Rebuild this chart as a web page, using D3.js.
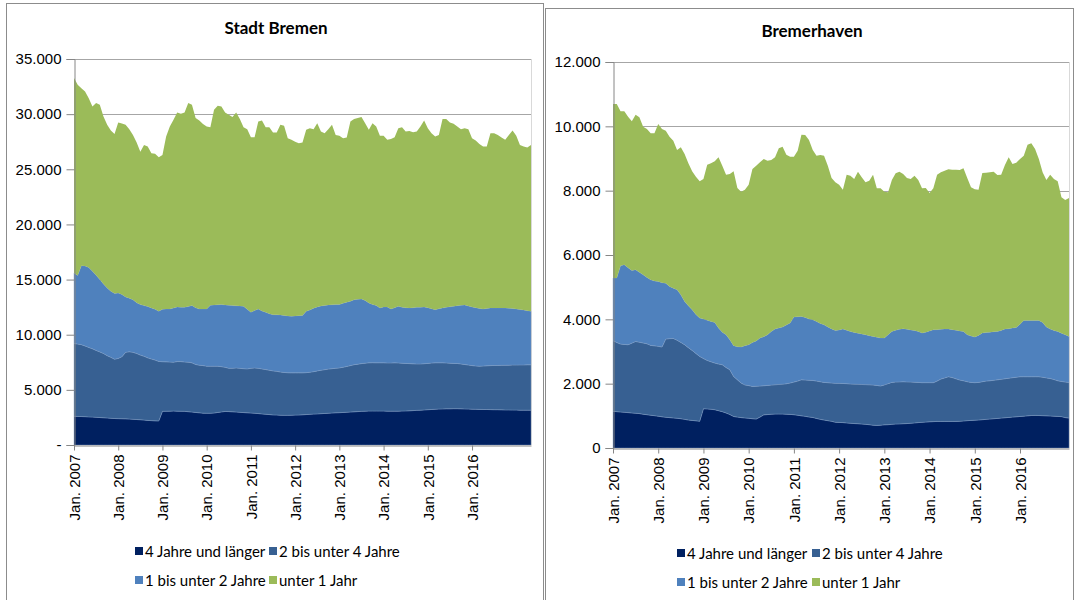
<!DOCTYPE html>
<html>
<head>
<meta charset="utf-8">
<script src="https://cdn.jsdelivr.net/npm/d3@7"></script>
<style>
  body { margin: 0; background: #fff; }
  svg { display: block; font-family: Lato, "Open Sans", sans-serif; }
</style>
</head>
<body>
<svg id="chart" width="1076" height="600"></svg>
<script>
// series names (stack order, bottom -> top)
const keys = ['4 Jahre und länger', '2 bis unter 4 Jahre', '1 bis unter 2 Jahre', 'unter 1 Jahr'];
const colors = ['#002060', '#376092', '#4f81bd', '#9bbb59'];
const tickLabels = ['Jan. 2007', 'Jan. 2008', 'Jan. 2009', 'Jan. 2010', 'Jan. 2011',
  'Jan. 2012', 'Jan. 2013', 'Jan. 2014', 'Jan. 2015', 'Jan. 2016'];

// Stadt Bremen, monthly from Jan. 2007
const bremen4plus = [
  2600,2590,2580,2570,2550,2530,2510,2490,2470,2450,2420,2400,
  2390,2380,2370,2350,2330,2310,2290,2260,2230,2210,2190,2180,
  3050,3060,3070,3080,3070,3060,3050,3020,2990,2950,2920,2890,
  2880,2880,2900,2950,3000,3040,3030,3010,2990,2960,2940,2920,
  2900,2880,2850,2820,2790,2760,2730,2720,2700,2690,2690,2700,
  2710,2720,2740,2760,2780,2800,2820,2840,2860,2880,2900,2920,
  2930,2950,2970,2990,3010,3030,3050,3070,3080,3080,3080,3080,
  3080,3070,3070,3070,3070,3080,3090,3100,3120,3140,3160,3180,
  3200,3220,3240,3260,3270,3280,3280,3290,3290,3280,3270,3260,
  3250,3240,3230,3220,3220,3210,3200,3200,3190,3180,3180,3170,
  3170,3160,3160,3160,3160];
const bremen2to4 = [
  6600,6560,6520,6410,6300,6190,6070,5950,5830,5650,5530,5380,
  5460,5620,6030,6100,6070,5990,5860,5790,5670,5590,5510,5400,
  4500,4480,4450,4430,4490,4500,4480,4490,4460,4350,4320,4310,
  4270,4270,4250,4200,4100,4010,3920,3950,4000,3990,3980,3980,
  4050,4110,4100,4080,4050,4020,3990,3960,3920,3890,3860,3840,
  3830,3820,3800,3800,3820,3850,3900,3940,3970,4000,4020,4040,
  4060,4100,4150,4210,4270,4300,4330,4350,4370,4380,4370,4370,
  4370,4370,4370,4380,4370,4340,4310,4280,4240,4210,4190,4190,
  4200,4210,4210,4190,4180,4160,4140,4110,4100,4070,4030,3990,
  3950,3930,3920,3940,3960,3990,4010,4010,4030,4050,4060,4080,
  4080,4100,4100,4110,4110];
const bremen1to2 = [
  6400,6210,7160,7250,7250,7030,6820,6560,6300,6140,6000,5950,
  5940,5650,5030,4850,4780,4600,4580,4590,4650,4630,4600,4540,
  4750,4790,4810,4910,4960,4940,4960,5050,5190,5150,5090,5130,
  5180,5520,5550,5560,5630,5650,5720,5680,5630,5650,5660,5400,
  5080,5210,5380,5250,5190,5120,5100,5120,5170,5170,5150,5130,
  5160,5190,5200,5560,5650,5750,5800,5820,5820,5820,5800,5770,
  5740,5800,5830,5830,5900,5880,5860,5680,5430,5290,5190,4980,
  5070,5080,4890,5000,5140,5080,5050,5050,5090,5130,5150,5150,
  5050,4920,4820,4900,4980,5040,5110,5180,5240,5320,5400,5350,
  5320,5280,5230,5170,5200,5230,5220,5220,5210,5190,5160,5130,
  5080,5020,4970,4900,4850];
const bremenUnder1 = [
  17670,17310,16090,15830,15350,14950,15600,15850,15190,14790,14570,14480,
  15450,15500,15600,15340,14940,14520,13870,14570,14510,14020,14100,13970,
  14000,15640,16550,17070,17630,17530,17660,18440,18210,17190,17090,16770,
  16550,16150,17690,18050,17970,17450,17270,17090,17530,16950,16240,16340,
  15880,15710,17000,17270,16790,16920,16510,16530,17240,17190,16120,16000,
  15800,15630,15680,16460,16480,16240,16660,15820,15620,15940,16310,15390,
  15300,14970,14930,16300,16370,16430,16490,16080,15700,16430,16240,15600,
  15510,15150,15420,15460,16150,16320,15970,16050,15910,15940,16380,16900,
  16280,15920,15700,15770,17120,17070,16710,16540,16250,15970,16030,16040,
  15300,15160,14920,14730,14680,15840,15840,15690,15450,15250,15720,16140,
  15700,14930,14830,14800,15090];

// Bremerhaven, monthly from Jan. 2007
const bhv4plus = [
  1140,1130,1120,1110,1100,1090,1080,1070,1050,1035,1020,1005,
  990,970,955,945,935,925,910,890,870,858,845,830,
  1220,1215,1205,1190,1160,1130,1090,1040,980,960,945,935,
  925,910,900,960,1030,1040,1050,1055,1056,1055,1050,1045,
  1035,1020,1000,985,965,950,920,890,870,850,830,800,
  795,790,780,770,760,755,745,735,725,710,703,710,
  720,725,735,745,750,755,760,770,780,790,797,805,
  815,820,827,827,827,827,827,827,830,840,850,858,
  865,870,880,890,900,910,920,930,940,950,960,970,
  980,990,1000,1010,1014,1010,1005,1000,995,990,983,975,
  945,930];
const bhv2to4 = [
  2194,2150,2110,2110,2110,2170,2230,2220,2215,2205,2170,2170,
  2170,2170,2431,2455,2470,2425,2373,2320,2250,2176,2095,2016,
  1560,1507,1475,1451,1450,1458,1410,1393,1245,1160,1073,1025,
  1015,1005,1020,965,905,905,905,911,919,930,947,975,
  1014,1060,1121,1128,1140,1151,1160,1170,1170,1180,1190,1210,
  1215,1215,1220,1220,1225,1224,1230,1235,1240,1248,1242,1217,
  1240,1275,1305,1305,1305,1305,1295,1280,1265,1250,1233,1225,
  1215,1210,1253,1315,1353,1388,1363,1323,1283,1250,1210,1182,
  1165,1170,1180,1190,1190,1195,1200,1205,1212,1220,1225,1230,
  1235,1225,1215,1205,1201,1205,1195,1180,1165,1140,1107,1095,
  1105,1110];
const bhv1to2 = [
  1948,2002,2434,2480,2390,2258,2230,2170,2119,2060,2039,2015,
  2013,2000,1734,1621,1565,1567,1480,1346,1300,1263,1210,1193,
  1228,1248,1256,1263,1118,1012,1021,932,954,1030,1120,1220,
  1270,1368,1410,1492,1525,1576,1665,1731,1755,1774,1823,1863,
  2021,2000,1970,1947,1903,1889,1850,1810,1791,1730,1680,1645,
  1660,1692,1660,1630,1608,1591,1570,1551,1525,1511,1495,1493,
  1457,1520,1584,1610,1635,1647,1635,1620,1610,1580,1543,1570,
  1610,1646,1600,1548,1517,1482,1490,1510,1527,1534,1461,1440,
  1418,1460,1513,1510,1510,1510,1504,1515,1545,1540,1545,1548,
  1635,1751,1751,1751,1751,1751,1700,1579,1540,1520,1534,1500,
  1470,1429];
const bhvUnder1 = [
  5412,5412,4802,4766,4700,4637,4823,4820,4606,4617,4553,4592,
  4900,4777,4745,4658,4585,4347,4584,4584,4430,4304,4286,4252,
  4355,4839,4914,5008,5309,5178,4977,5153,5422,4933,4831,4852,
  4977,5391,5448,5463,5525,5412,5334,5340,5586,5609,5299,5174,
  4987,5164,5650,5671,5567,5274,5158,5239,5257,5018,4694,4604,
  4517,4335,4838,4847,4770,5021,4870,4738,4821,5029,4633,4653,
  4552,4429,4708,4879,4901,4811,4704,4693,4812,4712,4500,4483,
  4288,4397,4818,4880,4925,4967,4973,4990,5003,5071,4873,4624,
  4594,4532,4977,4970,4970,4976,4863,4848,5101,5327,5099,5123,
  5135,5122,5464,5506,5330,5019,4670,4573,4798,4713,4667,4223,
  4190,4304];

const de = d3.formatLocale({ decimal: ',', thousands: '.', grouping: [3], currency: ['', ' €'] });
const fmt = de.format(',d');

const svg = d3.select('#chart');

const panels = [
  { title: 'Stadt Bremen', series: [bremen4plus, bremen2to4, bremen1to2, bremenUnder1],
    frame: [6, 3, 537, 620], titleX: 276, titleY: 34,
    left: 74, right: 531, top: 59, bottom: 445, max: 35000, step: 5000, zero: '-',
    legendX: [135, 269], legendY: [552, 581] },
  { title: 'Bremerhaven', series: [bhv4plus, bhv2to4, bhv1to2, bhvUnder1],
    frame: [545, 8, 528, 620], titleX: 812, titleY: 37,
    left: 613, right: 1069, top: 62, bottom: 448, max: 12000, step: 2000, zero: '0',
    legendX: [677, 812], legendY: [554, 583] }
];

panels.forEach(drawPanel);

function drawPanel(p) {
  const n = p.series[0].length;
  const rows = d3.range(n).map(i => {
    const r = { i: i };
    keys.forEach((k, j) => { r[k] = p.series[j][i]; });
    return r;
  });
  const stacked = d3.stack().keys(keys)(rows);

  const x = d3.scaleLinear().domain([0, n - 1]).range([p.left, p.right]);
  const y = d3.scaleLinear().domain([0, p.max]).range([p.bottom, p.top]);
  const yTicks = d3.range(0, p.max + 1, p.step);

  const g = svg.append('g');

  // panel frame
  g.append('rect')
    .attr('x', p.frame[0] + 0.5).attr('y', p.frame[1] + 0.5)
    .attr('width', p.frame[2]).attr('height', p.frame[3])
    .attr('fill', 'none').attr('stroke', '#8c8c8c');

  g.append('text')
    .attr('x', p.titleX).attr('y', p.titleY)
    .attr('text-anchor', 'middle')
    .style('font-size', '17px').style('font-weight', 'bold')
    .text(p.title);

  // gridlines
  g.selectAll('.grid')
    .data(yTicks.filter(d => d > 0))
    .enter()
    .append('line')
    .attr('class', 'grid')
    .attr('x1', p.left).attr('x2', p.right)
    .attr('y1', d => Math.round(y(d)) + 0.5).attr('y2', d => Math.round(y(d)) + 0.5)
    .attr('stroke', '#a6a6a6');

  g.append('line')
    .attr('x1', p.right + 0.5).attr('x2', p.right + 0.5)
    .attr('y1', p.top).attr('y2', p.bottom)
    .attr('stroke', '#d9d9d9');

  // stacked areas
  const area = d3.area()
    .x(d => x(d.data.i))
    .y0(d => y(d[0]))
    .y1(d => y(d[1]));

  g.selectAll('.band')
    .data(stacked)
    .enter()
    .append('path')
    .attr('class', 'band')
    .attr('fill', (d, j) => colors[j])
    .attr('stroke', (d, j) => j < 3 ? '#7f9cc4' : 'none')
    .attr('stroke-width', 0.4)
    .attr('d', area);

  // y axis
  const yAxis = g.append('g')
    .attr('transform', `translate(${p.left + 0.5},0)`)
    .call(d3.axisLeft(y).tickValues(yTicks).tickSize(8).tickPadding(5)
      .tickFormat(d => d === 0 ? p.zero : fmt(d)));
  yAxis.select('.domain').attr('stroke', '#868686');
  yAxis.selectAll('.tick line').attr('stroke', '#868686');
  yAxis.selectAll('text').style('font-size', '15px').attr('fill', '#000');

  // x axis
  const xAxis = g.append('g')
    .attr('transform', `translate(0,${p.bottom + 0.5})`)
    .call(d3.axisBottom(x).tickValues(tickLabels.map((t, k) => k * 12)).tickSize(5).tickSizeOuter(0)
      .tickFormat((d, k) => tickLabels[k]));
  xAxis.select('.domain').attr('stroke', '#868686');
  xAxis.selectAll('.tick line').attr('stroke', '#868686');
  xAxis.selectAll('text')
    .style('font-size', '15px').attr('fill', '#000')
    .attr('transform', 'rotate(-90)')
    .attr('x', -9).attr('y', 0).attr('dy', '0.35em')
    .style('text-anchor', 'end');

  // legend
  const legend = g.selectAll('.legend')
    .data(keys)
    .enter()
    .append('g')
    .attr('class', 'legend')
    .attr('transform', (d, j) => `translate(${p.legendX[j % 2]},${p.legendY[Math.floor(j / 2)]})`);
  legend.append('rect')
    .attr('x', 0).attr('y', -5).attr('width', 8).attr('height', 8)
    .attr('fill', (d, j) => colors[j]);
  legend.append('text')
    .attr('x', 10).attr('y', 0).attr('dy', '0.35em')
    .style('font-size', '15px')
    .text(d => d);
}
</script>
</body>
</html>
